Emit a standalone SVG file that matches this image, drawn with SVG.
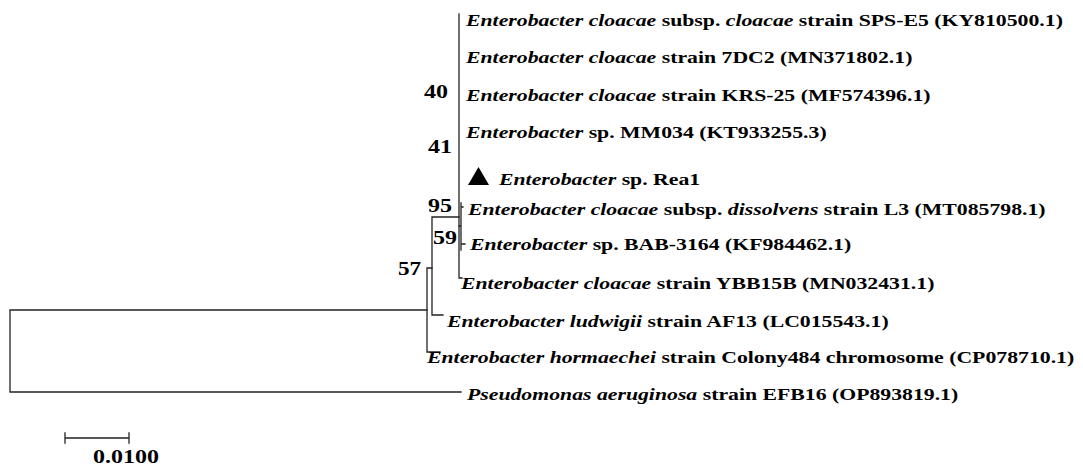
<svg xmlns="http://www.w3.org/2000/svg" width="1083" height="467" viewBox="0 0 1083 467">
<style>
.br{stroke:#222;stroke-width:1.3;fill:none;stroke-linecap:square}
.lb{font-family:"Liberation Serif","Times New Roman",serif;font-weight:bold;font-size:17px;fill:#000}
.i{font-style:italic}
.bs{font-family:"Liberation Serif","Times New Roman",serif;font-weight:bold;font-size:18.5px;fill:#000}
</style>
<rect width="1083" height="467" fill="#fff"/>
<g id="connectors">
<path class="br" d="M10 310V392M10 310H427M10 392H461"/>
<path class="br" d="M427 268V352M427 352H440M427 268H432"/>
<path class="br" d="M432 217V315M432 315H443M432 217H459"/>
<path class="br" d="M459 14V278M459 278H462"/>
<path class="br" d="M459 226H461M461 203V250M461 207H463M461 244H465"/>
</g>
<g id="bootstrap">
<text class="bs" transform="translate(424 98) scale(1.3 1)">40</text>
<text class="bs" transform="translate(428 153) scale(1.3 1)">41</text>
<text class="bs" transform="translate(428 212) scale(1.3 1)">95</text>
<text class="bs" transform="translate(433 244) scale(1.3 1)">59</text>
<text class="bs" transform="translate(398 275) scale(1.25 1)">57</text>
</g>
<g id="leaf1"><text class="lb" transform="translate(466 26) scale(1.28 1)"><tspan class="i">Enterobacter cloacae</tspan> subsp. <tspan class="i">cloacae</tspan> strain SPS-E5 (KY810500.1)</text></g>
<g id="leaf2"><text class="lb" transform="translate(466 63) scale(1.28 1)"><tspan class="i">Enterobacter cloacae</tspan> strain 7DC2 (MN371802.1)</text></g>
<g id="leaf3"><text class="lb" transform="translate(466 101) scale(1.28 1)"><tspan class="i">Enterobacter cloacae</tspan> strain KRS-25 (MF574396.1)</text></g>
<g id="leaf4"><text class="lb" transform="translate(466 138) scale(1.28 1)"><tspan class="i">Enterobacter</tspan> sp. MM034 (KT933255.3)</text></g>
<g id="leaf5"><polygon points="468,185 478.5,167 489,185" fill="#000"/><text class="lb" transform="translate(499 185) scale(1.28 1)"><tspan class="i">Enterobacter</tspan> sp. Rea1</text></g>
<g id="leaf6"><text class="lb" transform="translate(468 215) scale(1.28 1)"><tspan class="i">Enterobacter cloacae</tspan> subsp. <tspan class="i">dissolvens</tspan> strain L3 (MT085798.1)</text></g>
<g id="leaf7"><text class="lb" transform="translate(470 250) scale(1.28 1)"><tspan class="i">Enterobacter</tspan> sp. BAB-3164 (KF984462.1)</text></g>
<g id="leaf8"><text class="lb" transform="translate(461 289) scale(1.28 1)"><tspan class="i">Enterobacter cloacae</tspan> strain YBB15B (MN032431.1)</text></g>
<g id="leaf9"><text class="lb" transform="translate(447 327) scale(1.28 1)"><tspan class="i">Enterobacter ludwigii</tspan> strain AF13 (LC015543.1)</text></g>
<g id="leaf10"><text class="lb" transform="translate(427 363) scale(1.28 1)"><tspan class="i">Enterobacter hormaechei</tspan> strain Colony484 chromosome (CP078710.1)</text></g>
<g id="leaf11"><text class="lb" transform="translate(467 400) scale(1.28 1)"><tspan class="i">Pseudomonas aeruginosa</tspan> strain EFB16 (OP893819.1)</text></g>
<g id="scale">
<path class="br" d="M65 438H129M65 433V443M129 433V443"/>
<text class="bs" transform="translate(93 463) scale(1.3 1)">0.0100</text>
</g>
</svg>
